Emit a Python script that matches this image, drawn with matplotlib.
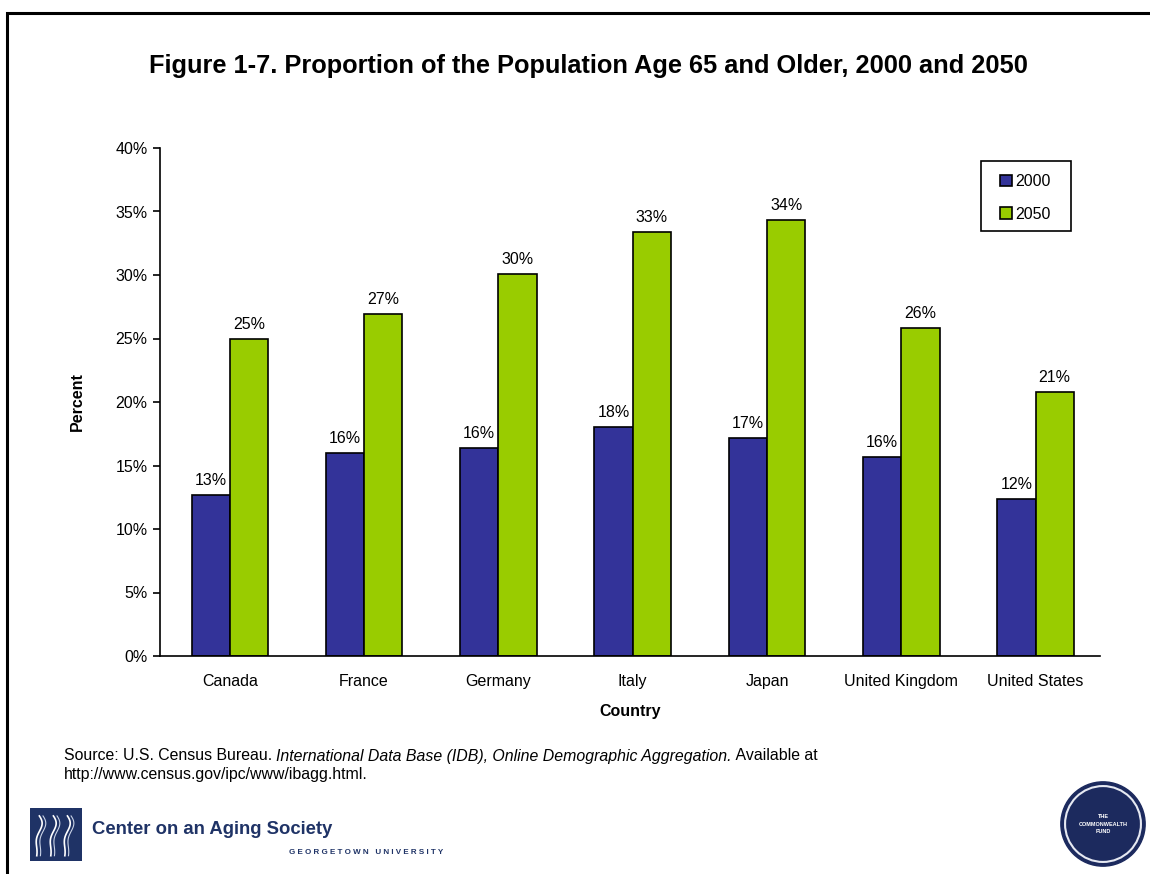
import numpy as np
import matplotlib
matplotlib.use("Agg")
import matplotlib.pyplot as plt
from matplotlib.patches import Rectangle, Circle

plt.rcParams["font.family"] = ["Liberation Sans", "DejaVu Sans"]

countries = ["Canada", "France", "Germany", "Italy", "Japan", "United Kingdom", "United States"]
pct_2000 = [12.7, 16.0, 16.4, 18.0, 17.2, 15.7, 12.4]
pct_2050 = [25.0, 26.9, 30.1, 33.4, 34.3, 25.8, 20.8]
y_ticks = [0, 5, 10, 15, 20, 25, 30, 35, 40]

NAVY = "#333399"
GREEN = "#99CC00"
LOGO_BLUE = "#1f3366"

W, H = 1150, 874
fig = plt.figure(figsize=(W / 100, H / 100), dpi=100)


def fx(px):
    return px / W


def fy(py):
    return 1 - py / H


# outer frame (runs off the right and bottom edges)
fig.add_artist(Rectangle((fx(7), -0.1), 1.2, fy(13) + 0.1, transform=fig.transFigure,
                         fill=False, edgecolor="black", linewidth=2.2))

fig.text(fx(588), fy(66), "Figure 1-7. Proportion of the Population Age 65 and Older, 2000 and 2050",
         ha="center", va="center", fontsize=18.3, fontweight="bold")

ax = fig.add_axes([fx(160), fy(656), fx(1100) - fx(160), fy(148) - fy(656)])
x = np.arange(len(countries))
w = 0.285
b1 = ax.bar(x - w / 2, pct_2000, w, color=NAVY, edgecolor="black", linewidth=1.2, label="2000")
b2 = ax.bar(x + w / 2, pct_2050, w, color=GREEN, edgecolor="black", linewidth=1.2, label="2050")
for bars, vals in ((b1, pct_2000), (b2, pct_2050)):
    for bar, v in zip(bars, vals):
        ax.annotate(f"{v:.0f}%", (bar.get_x() + bar.get_width() / 2, v), xytext=(0, 5),
                    textcoords="offset points", ha="center", va="bottom", fontsize=11.5)

ax.set_xlim(-0.52, len(countries) - 0.52)
ax.set_ylim(0, 40)
ax.set_yticks(y_ticks)
ax.set_yticklabels([f"{t}%" for t in y_ticks], fontsize=11.5)
ax.set_xticks(x)
ax.set_xticklabels(countries, fontsize=11.5)
ax.tick_params(axis="x", length=0, pad=13)
ax.tick_params(axis="y", length=5, width=1.2, pad=4)
for s in ("top", "right"):
    ax.spines[s].set_visible(False)
for s in ("left", "bottom"):
    ax.spines[s].set_linewidth(1.2)
ax.set_xlabel("Country", fontsize=11.5, fontweight="bold", labelpad=11)
ax.set_ylabel("Percent", fontsize=11.5, fontweight="bold", labelpad=22)

# legend entries without their own frame; the box is drawn separately
fig.add_artist(Rectangle((fx(981), fy(231)), fx(90), 70 / H, transform=fig.transFigure,
                         fill=False, edgecolor="black", linewidth=1.2))
leg = ax.legend(loc="upper left", bbox_to_anchor=(fx(1000), fy(174)),
                bbox_transform=fig.transFigure,
                fontsize=11.5, frameon=False,
                handlelength=0.75, handleheight=0.75, handletextpad=0.2, labelspacing=1.1,
                borderpad=0, borderaxespad=0)

# source note: plain / italic / plain pieces laid out one after another
renderer = fig.canvas.get_renderer()
src_y = fy(756)
fs_src = 11.4
t0 = fig.text(fx(64), src_y, "Source: U.S. Census Bureau. ", fontsize=fs_src, va="center", ha="left")
bb = t0.get_window_extent(renderer)
t1 = fig.text(bb.x1 / W, src_y,
              "International Data Base (IDB), Online Demographic Aggregation.",
              fontsize=fs_src, style="italic", va="center", ha="left")
bb1 = t1.get_window_extent(renderer)
fig.text(bb1.x1 / W, src_y, " Available at", fontsize=fs_src, va="center", ha="left")
fig.text(fx(64), fy(774), "http://www.census.gov/ipc/www/ibagg.html.", fontsize=fs_src,
         va="center", ha="left")

# Center on an Aging Society logo
lx, ly, lw, lh = 30, 808, 52, 53
logo = fig.add_axes([fx(lx), fy(ly + lh), fx(lw), lh / H])
logo.set_xlim(0, 1)
logo.set_ylim(0, 1)
logo.axis("off")
logo.add_patch(Rectangle((0, 0), 1, 1, color=LOGO_BLUE))
t = np.linspace(0, 1, 60)
for x0 in (0.18, 0.45, 0.72):
    xs = x0 + 0.08 * np.sin(t * 7) * (1 - t) - 0.05 * t
    logo.plot(xs, 0.85 - 0.75 * t, color="white", linewidth=1.2)
    logo.plot(xs + 0.07, 0.85 - 0.75 * t, color="#c9d3e6", linewidth=0.8)
fig.text(fx(92), fy(829), "Center on an Aging Society", fontsize=13.3, fontweight="bold",
         color=LOGO_BLUE, va="center", ha="left")
fig.text(fx(443), fy(853), "G E O R G E T O W N   U N I V E R S I T Y", fontsize=5.8,
         color=LOGO_BLUE, va="center", ha="right", fontweight="bold")

# Commonwealth Fund seal
cx, cy, r = 1103, 824, 43
seal = fig.add_axes([fx(cx - r), fy(cy + r), fx(2 * r), 2 * r / H])
seal.set_xlim(-1.02, 1.02)
seal.set_ylim(-1.02, 1.02)
seal.set_aspect("equal")
seal.axis("off")
seal.add_patch(Circle((0, 0), 1.0, color="#1c2a5e"))
seal.add_patch(Circle((0, 0), 0.9, fill=False, edgecolor="#e6e9f2", linewidth=1.5))
for dy, word in ((0.18, "THE"), (0.0, "COMMONWEALTH"), (-0.18, "FUND")):
    seal.text(0, dy, word, color="white", fontsize=4, ha="center", va="center", fontweight="bold")

fig.savefig("out.png", dpi=100)
